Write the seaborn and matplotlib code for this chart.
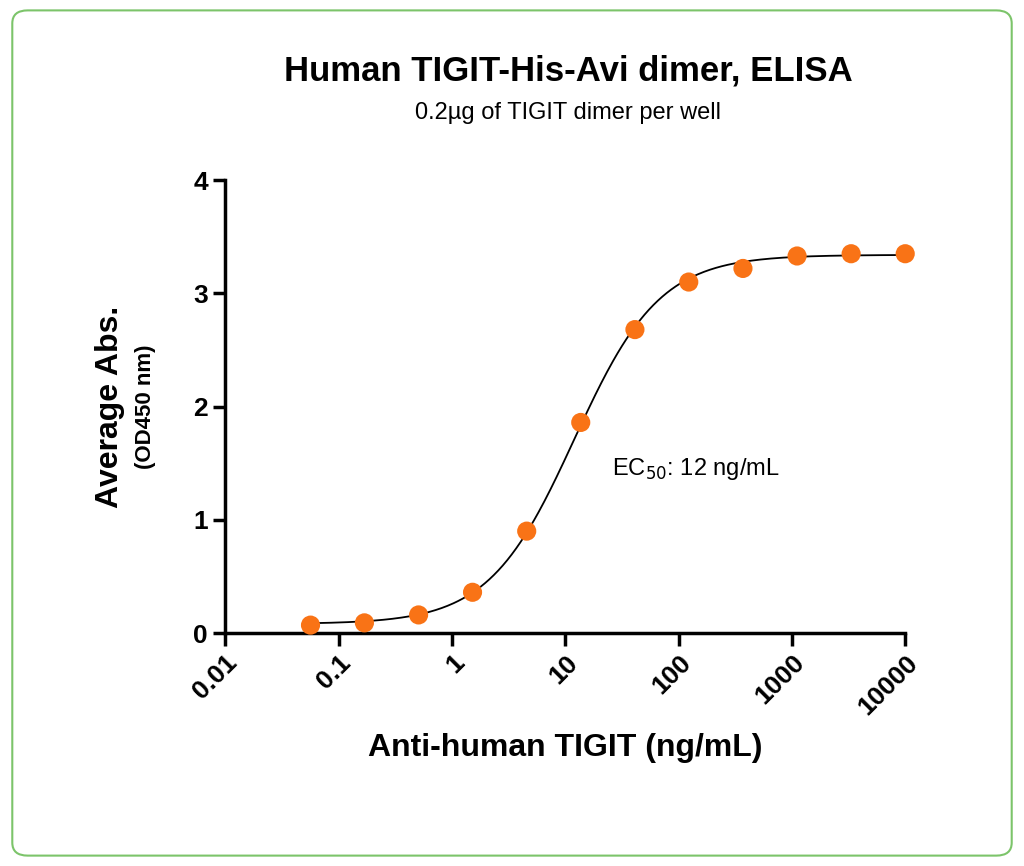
import numpy as np
import matplotlib
matplotlib.use("Agg")
import matplotlib.pyplot as plt
import seaborn as sns
import pandas as pd
from matplotlib.patches import FancyBboxPatch

plt.rcParams["font.family"] = "Liberation Sans"

conc = [10000, 3333, 1111, 370, 123, 41.2, 13.7, 4.57, 1.52, 0.508, 0.169, 0.0565]
absorb = [3.35, 3.35, 3.33, 3.22, 3.10, 2.68, 1.86, 0.90, 0.36, 0.16, 0.09, 0.07]
bottom_fit, top_fit, ec50, hill = 0.08, 3.34, 12.0, 1.15
xticks = [0.01, 0.1, 1, 10, 100, 1000, 10000]
xticklabels = ["0.01", "0.1", "1", "10", "100", "1000", "10000"]

df = pd.DataFrame({"conc": conc, "abs": absorb})
xc = np.logspace(np.log10(0.0565), 4, 400)
yc = bottom_fit + (top_fit - bottom_fit) / (1 + (ec50 / xc) ** hill)

fig = plt.figure(figsize=(10.24, 8.66), dpi=100)
fig.patches.append(FancyBboxPatch((0.012, 0.012), 0.976, 0.976, boxstyle="round,pad=0,rounding_size=0.015",
                                  transform=fig.transFigure, fill=False, ec="#7cc46a", lw=1.5))
ax = fig.add_axes([0.22, 0.269, 0.664, 0.523])
ax.plot(xc, yc, color="black", lw=1.3)
sns.scatterplot(data=df, x="conc", y="abs", ax=ax, color="#f97316", s=190, edgecolor="none", zorder=3, clip_on=False)
ax.set_xscale("log")
ax.set_xlim(0.01, 10000)
ax.set_ylim(0, 4)
ax.set_xticks(xticks)
ax.set_xticklabels(xticklabels, rotation=45, ha="right", rotation_mode="anchor", fontsize=19, fontweight="bold")
ax.minorticks_off()
ax.set_yticks([0, 1, 2, 3, 4])
ax.set_yticklabels(["0", "1", "2", "3", "4"], fontsize=19, fontweight="bold")
for s in ["top", "right"]:
    ax.spines[s].set_visible(False)
for s in ["left", "bottom"]:
    ax.spines[s].set_linewidth(2.5)
ax.tick_params(width=2.5, length=9)
ax.set_xlabel("Anti-human TIGIT (ng/mL)", fontsize=23, fontweight="bold", labelpad=10)
ax.set_ylabel("")
fig.text(0.107, 0.53, "Average Abs.", rotation=90, ha="center", va="center", fontsize=23, fontweight="bold")
fig.text(0.142, 0.53, "(OD450 nm)", rotation=90, ha="center", va="center", fontsize=16, fontweight="bold")
fig.text(0.555, 0.918, "Human TIGIT-His-Avi dimer, ELISA", ha="center", va="center", fontsize=25, fontweight="bold")
fig.text(0.555, 0.869, "0.2µg of TIGIT dimer per well", ha="center", va="center", fontsize=17)
ax.text(26, 1.4, "EC$_{50}$: 12 ng/mL", fontsize=17)
fig.savefig("out.png", dpi=100)
